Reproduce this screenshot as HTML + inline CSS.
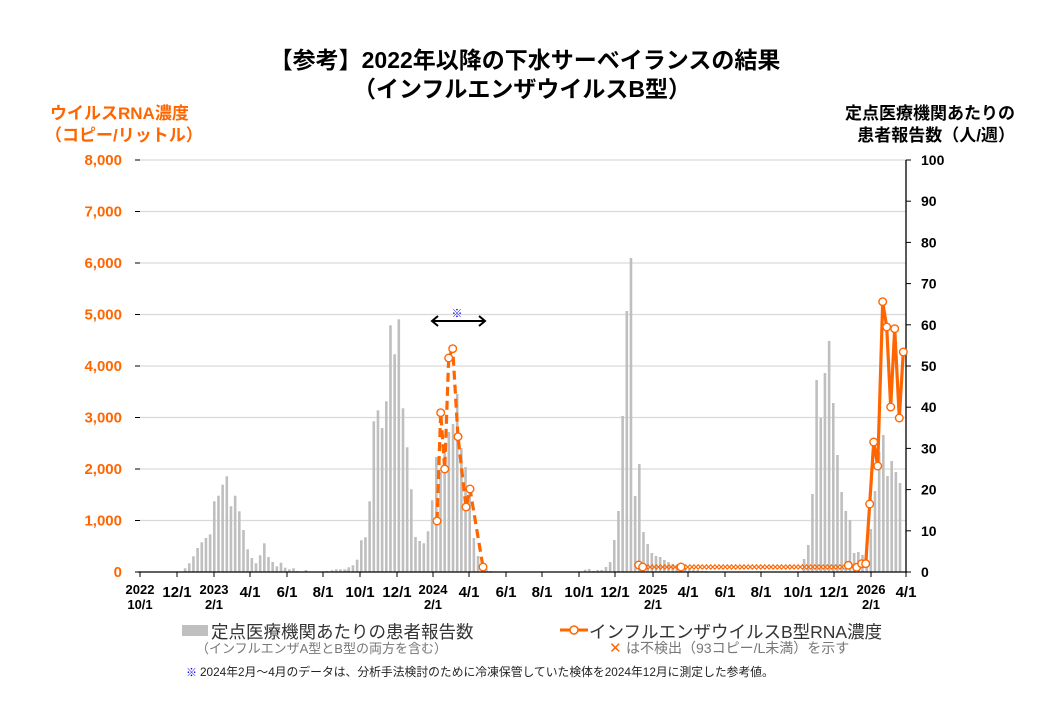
<!DOCTYPE html>
<html><head><meta charset="utf-8"><style>
body{margin:0;background:#fff;}
svg text{font-family:"Liberation Sans","Noto Sans CJK JP",sans-serif;}
</style></head><body>
<svg id="s" width="1040" height="720" xmlns="http://www.w3.org/2000/svg">
<rect width="1040" height="720" fill="#fff"/>
<text x="525" y="68" text-anchor="middle" font-size="23" font-weight="bold">【参考】2022年以降の下水サーベイランスの結果</text>
<text x="522" y="97" text-anchor="middle" font-size="23" font-weight="bold">（インフルエンザウイルスB型）</text>
<text x="50" y="119" font-size="17" font-weight="bold" fill="#ff6600">ウイルスRNA濃度</text>
<text x="45" y="141" font-size="17" font-weight="bold" fill="#ff6600">（コピー/リットル）</text>
<text x="1015" y="119" text-anchor="end" font-size="17" font-weight="bold">定点医療機関あたりの</text>
<text x="1015" y="141" text-anchor="end" font-size="17" font-weight="bold">患者報告数（人/週）</text>
<g id="grid"></g>
<g id="bars" fill="#bfbfbf"></g>
<g id="axes"></g>
<g id="series"></g>
<rect x="182" y="625" width="26" height="11" fill="#bfbfbf"/>
<text x="211" y="638" font-size="17.5" fill="#333">定点医療機関あたりの患者報告数</text>
<text x="196" y="653" font-size="13" fill="#777">（インフルエンザA型とB型の両方を含む）</text>
<line x1="560" y1="630" x2="588" y2="630" stroke="#ff6600" stroke-width="3"/>
<circle cx="574" cy="630" r="4" fill="#fff" stroke="#ff6600" stroke-width="1.5"/>
<text x="589" y="638" font-size="17.5" fill="#333">インフルエンザウイルスB型RNA濃度</text>
<text x="609" y="653" font-size="15" fill="#ff6600">✕</text>
<text x="626" y="653" font-size="14" fill="#777">は不検出（93コピー/L未満）を示す</text>
<text x="186" y="676" font-size="11" fill="#0000ff">※</text>
<text x="200" y="676" font-size="11.8" fill="#222">2024年2月～4月のデータは、分析手法検討のために冷凍保管していた検体を2024年12月に測定した参考値。</text>
<line x1="432" y1="321" x2="485" y2="321" stroke="#000" stroke-width="2"/>
<path d="M438,316 L432,321 L438,326 M479,316 L485,321 L479,326" stroke="#000" stroke-width="2" fill="none"/>
<text x="457" y="317" text-anchor="middle" font-size="11" fill="#0000ff">※</text>
</svg>
<script>
var NS="http://www.w3.org/2000/svg";
function el(p,t,a,txt){var e=document.createElementNS(NS,t);for(var k in a)e.setAttribute(k,a[k]);if(txt!==undefined)e.textContent=txt;document.getElementById(p).appendChild(e);return e;}
var y0=572,yT=160,L=140,R=906;
for(var i=0;i<=8;i++){var y=y0-i*(y0-yT)/8;
 if(i>0)el("grid","line",{x1:L,x2:R,y1:y,y2:y,stroke:"#d9d9d9","stroke-width":1.3});
 el("axes","line",{x1:L-5,x2:L,y1:y,y2:y,stroke:"#000"});
 el("axes","text",{x:122,y:y+5,"text-anchor":"end","font-size":15,"font-weight":"bold",fill:"#ff6600"},i==0?"0":(i+",000"));}
for(var i=0;i<=10;i++){var y=y0-i*(y0-yT)/10;
 el("axes","line",{x1:R,x2:R+5,y1:y,y2:y,stroke:"#000"});
 el("axes","text",{x:921,y:y+5,"font-size":14,"font-weight":"bold"},String(i*10));}
el("axes","line",{x1:R,x2:R,y1:yT,y2:y0,stroke:"#000","stroke-width":1.3});
el("axes","line",{x1:L-2,x2:R+1,y1:y0,y2:y0,stroke:"#000","stroke-width":1.3});
var xl=[[140,"2022","10/1"],[177,"12/1"],[214,"2023","2/1"],[250,"4/1"],[287,"6/1"],[323,"8/1"],[360,"10/1"],[397,"12/1"],[433,"2024","2/1"],[469,"4/1"],[506,"6/1"],[542,"8/1"],[579,"10/1"],[615,"12/1"],[653,"2025","2/1"],[688,"4/1"],[725,"6/1"],[761,"8/1"],[798,"10/1"],[834,"12/1"],[871,"2026","2/1"],[906,"4/1"]];
xl.forEach(function(d){el("axes","line",{x1:d[0],x2:d[0],y1:y0,y2:y0+5,stroke:"#000"});
 if(d.length==2)el("axes","text",{x:d[0],y:597,"text-anchor":"middle","font-size":15,"font-weight":"bold"},d[1]);
 else{el("axes","text",{x:d[0],y:594,"text-anchor":"middle","font-size":13,"font-weight":"bold"},d[1]);
 el("axes","text",{x:d[0],y:609,"text-anchor":"middle","font-size":13,"font-weight":"bold"},d[2]);}});
function bars(x,hs){hs.forEach(function(h,i){if(h>0)el("bars","rect",{x:x+i*4.17-1.2,y:y0-h,width:2.6,height:h});});}
bars(185,[3.7,8.7,15.7,24,29.7,34,37.7,70.7,76.3,87.3,95.7,65.7,76.3,60.7,42,22.7,14,8.7,16.7,28.7,15,10,5.7,9.3,4.3,2.7,3.7,1,0,2,0,0,0,0,1,0,0,0,0,2,0,0]);
bars(332,[1.7,2.7,2.7,2.7,4.7,6.7,12.3,31.7,34.7,70.7,150.7,161.7,144,170.7,246.7,217.7,252.7,163.7,124.7,82.7,35,31,28.7,40.7,71.7,115,100,125,140,148,178,124,105,80,34,16,8,3,1]);
bars(585,[2.3,3,1,2,2,5,10,32,61,156,261,314,76,108,40,28,19,16,15,12,10,8,6,5,4,3,2,2,1,1]);
bars(804,[13,27,78,192,154,199,231,169,117,80,61,52,19,20,17,18,43,81,120,137,96,111,100,89]);
function path(pts,dash){var d=pts.map(function(p,i){return(i?"L":"M")+p[0]+","+p[1];}).join(" ");
 var a={d:d,fill:"none",stroke:"#ff6600","stroke-width":3.2,"stroke-linejoin":"round"};if(dash)a["stroke-dasharray"]="9,5";
 el("series","path",a);}
var p1=[[437,521],[440.7,412.7],[444.7,469],[448.7,358],[452.7,348.7],[458,436.7],[466,507],[470,489],[483,567]];
var p2=[[848.3,565.3],[856.7,567.3],[861.7,563.7],[865.7,563.7],[869.7,504],[873.7,442],[877.7,466],[882.7,301.7],[886.7,327],[890.7,407],[894.7,328.7],[899.3,418],[903.3,352]];
path(p1,true);path([[638.7,565],[642.7,567]]);path(p2);
for(var x=646;x<846;x+=4.17){el("series","path",{d:"M"+(x-2.5)+","+(564.5)+" L"+(x+2.5)+","+(569.5)+" M"+(x-2.5)+","+(569.5)+" L"+(x+2.5)+","+(564.5),stroke:"#ff6600","stroke-width":1.2});}
p1.concat(p2,[[638.7,565],[642.7,567],[681,567]]).forEach(function(p){el("series","circle",{cx:p[0],cy:p[1],r:3.8,fill:"#fff",stroke:"#ff6600","stroke-width":1.4});});
</script>
</body></html>
